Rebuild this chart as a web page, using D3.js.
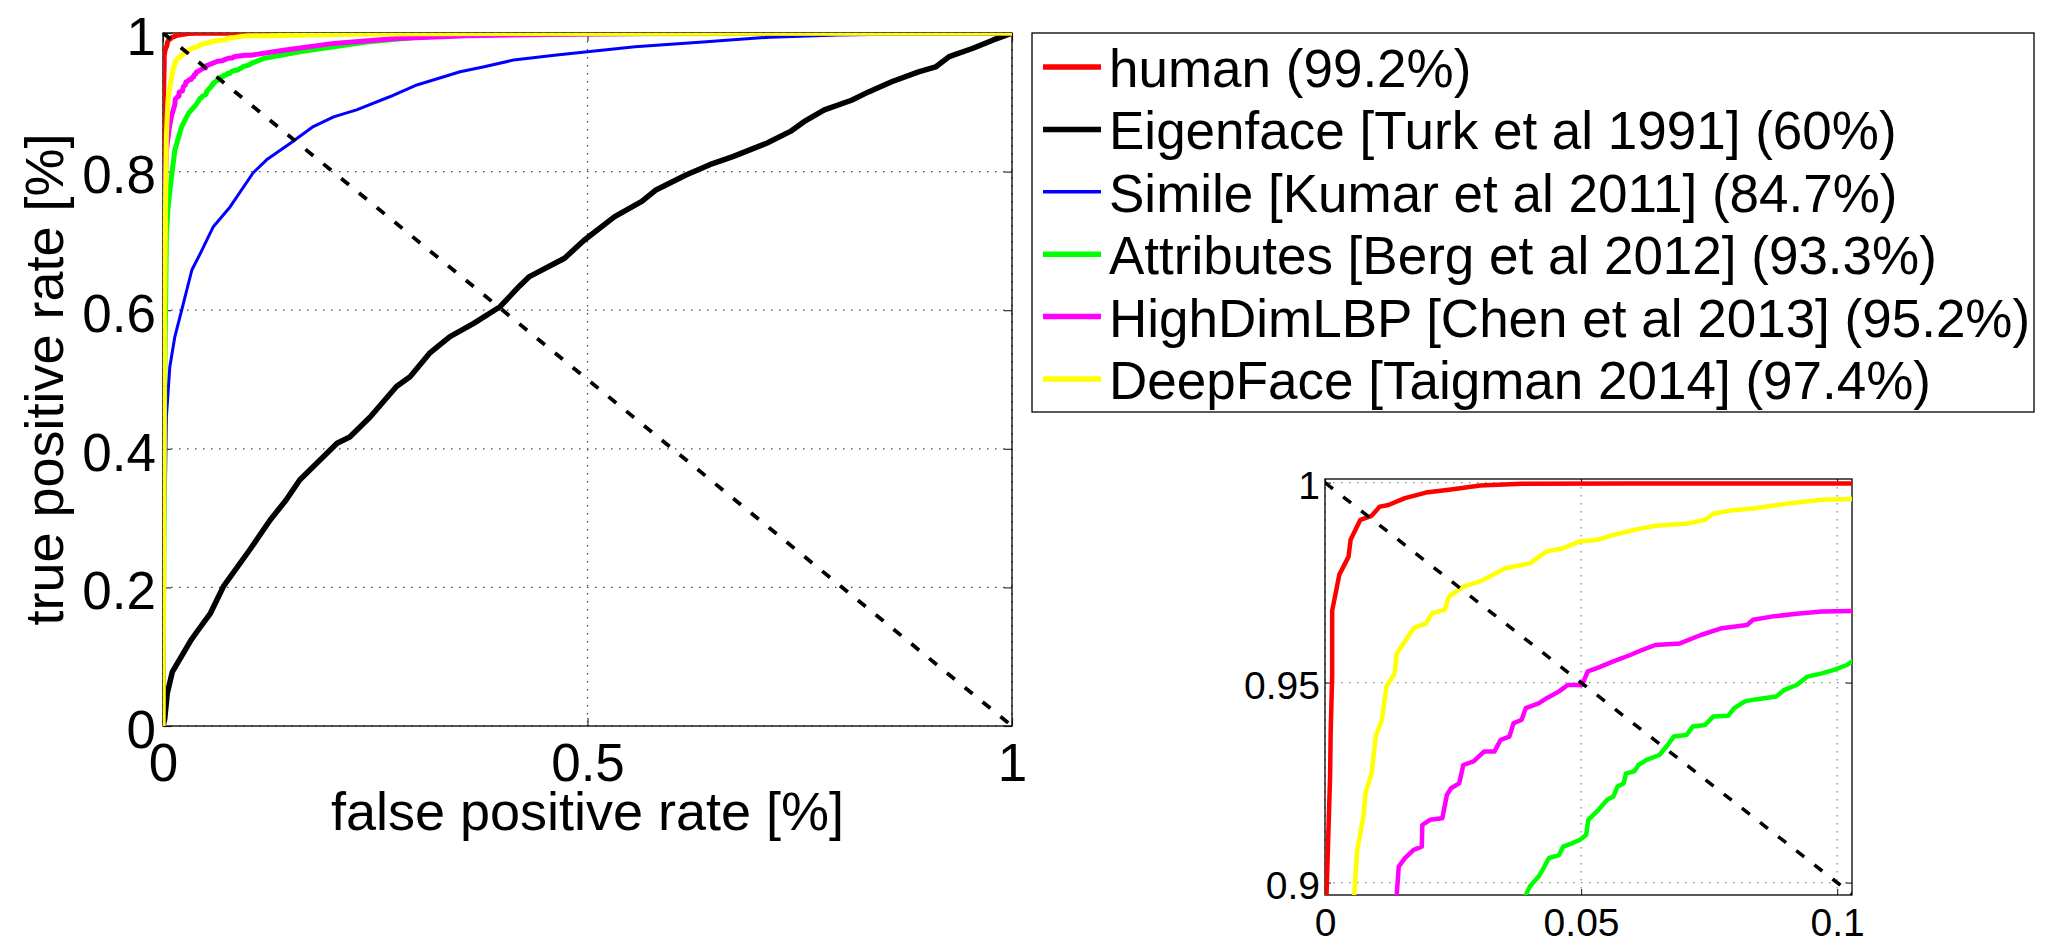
<!DOCTYPE html>
<html>
<head>
<meta charset="utf-8">
<script src="https://cdnjs.cloudflare.com/ajax/libs/d3/7.8.5/d3.min.js"></script>
<style>
  html, body { margin: 0; padding: 0; background: #fff; }
  svg { display: block; font-family: 'Liberation Sans', Arial, Helvetica, sans-serif; }
</style>
</head>
<body>
<div id="chart"></div>
<script>
// ROC curves, as [false positive rate, true positive rate]
const human = [[0, 0], [0.0002, 0.85], [0.0003, 0.897], [0.0010, 0.927], [0.0011, 0.937], [0.0014, 0.952], [0.0014, 0.968],
  [0.0028, 0.977], [0.0046, 0.9815], [0.0050, 0.9857], [0.0069, 0.9907], [0.0091, 0.9917], [0.0107, 0.994], [0.0124, 0.9944],
  [0.0156, 0.9961], [0.0197, 0.9975], [0.0246, 0.9983], [0.0303, 0.9993], [0.0384, 0.9997], [0.0588, 0.9998], [0.1035, 0.9998],
  [0.2, 1], [1, 1]];

const eigenface = [[0, 0], [0.002, 0.01], [0.005, 0.047], [0.011, 0.078], [0.033, 0.124], [0.040, 0.136], [0.056, 0.163],
  [0.071, 0.201], [0.102, 0.254], [0.126, 0.297], [0.145, 0.326], [0.161, 0.355], [0.205, 0.408], [0.220, 0.417], [0.244, 0.446],
  [0.275, 0.490], [0.291, 0.504], [0.314, 0.538], [0.338, 0.562], [0.366, 0.581], [0.397, 0.605], [0.420, 0.635], [0.431, 0.648],
  [0.473, 0.675], [0.496, 0.701], [0.532, 0.735], [0.564, 0.757], [0.580, 0.773], [0.616, 0.795], [0.644, 0.810], [0.672, 0.822],
  [0.711, 0.841], [0.739, 0.858], [0.755, 0.872], [0.779, 0.889], [0.811, 0.903], [0.831, 0.915], [0.859, 0.930], [0.890, 0.944],
  [0.910, 0.951], [0.926, 0.966], [0.954, 0.978], [0.978, 0.990], [1, 1]];

const simile = [[0, 0], [0.001, 0.15], [0.002, 0.3], [0.003, 0.355], [0.004, 0.446], [0.008, 0.518], [0.014, 0.562],
  [0.022, 0.600], [0.034, 0.658], [0.044, 0.682], [0.059, 0.720], [0.079, 0.749], [0.106, 0.798], [0.122, 0.817], [0.150, 0.841],
  [0.177, 0.865], [0.201, 0.879], [0.228, 0.889], [0.267, 0.908], [0.299, 0.925], [0.350, 0.944], [0.377, 0.951], [0.413, 0.961],
  [0.461, 0.968], [0.500, 0.973], [0.556, 0.980], [0.636, 0.987], [0.715, 0.994], [0.795, 0.997], [0.835, 0.998], [1, 1]];

const attributes = [[0, 0], [0.002, 0.5], [0.003, 0.6], [0.004, 0.711], [0.006, 0.749], [0.010, 0.793], [0.014, 0.831],
  [0.022, 0.865], [0.030, 0.884], [0.0392, 0.8969], [0.040, 0.899], [0.0417, 0.9015], [0.0425, 0.9032], [0.0437, 0.9061],
  [0.0457, 0.9069], [0.0465, 0.909], [0.0482, 0.9098], [0.0498, 0.9107], [0.051, 0.9119], [0.0514, 0.9157], [0.0534, 0.9182],
  [0.0551, 0.9207], [0.0563, 0.9215], [0.0571, 0.924], [0.0583, 0.9248], [0.0588, 0.9273], [0.0604, 0.9278], [0.0612, 0.9294],
  [0.0628, 0.9307], [0.0653, 0.9319], [0.0669, 0.9344], [0.0681, 0.9365], [0.0706, 0.9369], [0.0718, 0.939], [0.0742, 0.9394],
  [0.0758, 0.9415], [0.0787, 0.9417], [0.0799, 0.9436], [0.082, 0.9453], [0.084, 0.9458], [0.0881, 0.9465], [0.0897, 0.9482],
  [0.0921, 0.9494], [0.0942, 0.9515], [0.097, 0.9523], [0.0994, 0.9532], [0.1019, 0.9544], [0.1035, 0.9558], [0.118, 0.963],
  [0.161, 0.973], [0.201, 0.980], [0.240, 0.987], [0.299, 0.994], [0.358, 0.997], [0.5, 0.999], [1, 1]];

const highDimLBP = [[0, 0], [0.001, 0.5], [0.002, 0.75], [0.004, 0.83], [0.007, 0.86], [0.010, 0.88], [0.014, 0.8969],
  [0.0144, 0.904], [0.0156, 0.9061], [0.0173, 0.9082], [0.0189, 0.909], [0.019, 0.9144], [0.0205, 0.9157], [0.0229, 0.9161],
  [0.0238, 0.9219], [0.0246, 0.9236], [0.0262, 0.9248], [0.027, 0.9294], [0.029, 0.9303], [0.0311, 0.9328], [0.0331, 0.9328],
  [0.0343, 0.9357], [0.036, 0.9365], [0.0368, 0.9398], [0.0384, 0.9407], [0.0392, 0.9436], [0.0417, 0.9448], [0.0433, 0.9461],
  [0.0457, 0.9478], [0.0474, 0.9494], [0.0502, 0.9494], [0.0513, 0.9528], [0.0531, 0.9536], [0.0563, 0.9553], [0.0596, 0.9569],
  [0.062, 0.9582], [0.0645, 0.9594], [0.0693, 0.9598], [0.0734, 0.9619], [0.0775, 0.9636], [0.0824, 0.9644], [0.0836, 0.9657],
  [0.0872, 0.9665], [0.0921, 0.9672], [0.097, 0.9678], [0.1035, 0.9679], [0.142, 0.975], [0.201, 0.985], [0.275, 0.992],
  [0.358, 0.996], [0.45, 0.998], [0.6, 0.9995], [1, 1]];

const deepFace = [[0, 0], [0.001, 0.3], [0.002, 0.6], [0.003, 0.75], [0.004, 0.85], [0.005, 0.88], [0.0057, 0.8969],
  [0.0063, 0.9082], [0.0075, 0.9165], [0.0079, 0.9223], [0.0091, 0.9273], [0.0099, 0.9365], [0.0111, 0.9407], [0.012, 0.949],
  [0.0136, 0.9523], [0.014, 0.9573], [0.0156, 0.9603], [0.0173, 0.9636], [0.0197, 0.9648], [0.0209, 0.9673], [0.0234, 0.9682],
  [0.0242, 0.9715], [0.027, 0.974], [0.0303, 0.9753], [0.0327, 0.9769], [0.0352, 0.9786], [0.04, 0.9798], [0.0433, 0.9828],
  [0.0465, 0.9836], [0.0498, 0.9853], [0.0531, 0.9857], [0.0563, 0.9869], [0.0608, 0.9883], [0.0645, 0.9892], [0.071, 0.9898],
  [0.0742, 0.9907], [0.0758, 0.9922], [0.0791, 0.993], [0.084, 0.9936], [0.0905, 0.9948], [0.097, 0.9957], [0.1035, 0.9959],
  [0.122, 0.996], [0.201, 0.998], [0.3, 0.999], [1, 1]];

const chanceLine = [[0, 1], [1, 0]];

const seriesNames = ['human (99.2%)', 'Eigenface [Turk et al 1991] (60%)', 'Simile [Kumar et al 2011] (84.7%)',
  'Attributes [Berg et al 2012] (93.3%)', 'HighDimLBP [Chen et al 2013] (95.2%)', 'DeepFace [Taigman 2014] (97.4%)'];
const seriesData = [human, eigenface, simile, attributes, highDimLBP, deepFace];
const seriesColors = ['#ff0000', '#000000', '#0000ff', '#00ff00', '#ff00ff', '#ffff00'];
const seriesWidths = [5, 5.5, 3, 5, 5, 5];

const mainTicksX = [0, 0.5, 1];
const mainTicksY = [0, 0.2, 0.4, 0.6, 0.8, 1];
const insetTicksX = [0, 0.05, 0.1];
const insetTicksY = [0.9, 0.95, 1];

const svg = d3.select('#chart').append('svg')
  .attr('width', 2045)
  .attr('height', 944);

function drawPanel(p) {
  let x = d3.scaleLinear().domain(p.xDomain).range([0, p.width]);
  let y = d3.scaleLinear().domain(p.yDomain).range([p.height, 0]);
  let fmt = d3.format('~g');

  let g = svg.append('g')
    .attr('class', 'panel ' + p.id)
    .attr('transform', 'translate(' + [p.left, p.top] + ')');

  g.append('clipPath')
    .attr('id', p.id + '-clip')
    .append('rect')
    .attr('width', p.width)
    .attr('height', p.height);

  g.append('rect')
    .attr('width', p.width)
    .attr('height', p.height)
    .style('fill', '#fff');

  // dotted grid
  let grid = g.append('g').attr('class', 'grid');
  grid.selectAll('line.gx')
    .data(p.ticksX)
    .enter().append('line')
    .attr('class', 'gx')
    .attr('x1', d => x(d)).attr('x2', d => x(d))
    .attr('y1', 0).attr('y2', p.height);
  grid.selectAll('line.gy')
    .data(p.ticksY)
    .enter().append('line')
    .attr('class', 'gy')
    .attr('x1', 0).attr('x2', p.width)
    .attr('y1', d => y(d)).attr('y2', d => y(d));
  grid.selectAll('line')
    .style('stroke', p.gridColor)
    .style('stroke-width', 1.2)
    .style('stroke-dasharray', '1.5,6.5');

  // axes, ticks pointing inwards like matlab
  let axes = [
    {axis: d3.axisBottom(x).tickValues(p.ticksX).tickFormat(fmt).tickPadding(p.padX), at: [0, p.height]},
    {axis: d3.axisTop(x).tickValues(p.ticksX).tickFormat(''), at: [0, 0]},
    {axis: d3.axisLeft(y).tickValues(p.ticksY).tickFormat(fmt).tickPadding(p.padY), at: [0, 0]},
    {axis: d3.axisRight(y).tickValues(p.ticksY).tickFormat(''), at: [p.width, 0]}
  ];
  axes.forEach(a => {
    let ag = g.append('g')
      .attr('class', 'axis')
      .attr('transform', 'translate(' + a.at + ')')
      .call(a.axis.tickSizeInner(-p.tick).tickSizeOuter(0));
    ag.select('.domain').remove();
    ag.selectAll('line').style('stroke', '#333').style('stroke-width', 1.2);
    ag.selectAll('text')
      .attr('font-family', null)
      .style('font-size', p.fontSize + 'px')
      .style('fill', '#000');
  });
  g.selectAll('.axis').filter((d, i) => i === 2).selectAll('text').attr('dy', '0.4em');

  g.append('rect')
    .attr('width', p.width)
    .attr('height', p.height)
    .style('fill', 'none')
    .style('stroke', '#000')
    .style('stroke-width', 1.3);

  let line = d3.line().x(d => x(d[0])).y(d => y(d[1]));
  let curves = g.append('g').attr('clip-path', 'url(#' + p.id + '-clip)');

  curves.selectAll('path.roc')
    .data(seriesData)
    .enter().append('path')
    .attr('class', 'roc')
    .attr('d', line)
    .style('fill', 'none')
    .style('stroke', (d, i) => seriesColors[i])
    .style('stroke-width', (d, i) => p.lineScale * seriesWidths[i])
    .style('stroke-linejoin', 'round')
    .style('stroke-linecap', 'round')
    .style('display', (d, i) => p.skip.indexOf(i) >= 0 ? 'none' : null);

  curves.append('path')
    .datum(chanceLine)
    .attr('d', line)
    .style('fill', 'none')
    .style('stroke', '#000')
    .style('stroke-width', p.dashWidth)
    .style('stroke-dasharray', '10,13');

  return g;
}

let main = drawPanel({
  id: 'main', left: 163, top: 33, width: 849, height: 693,
  xDomain: [0, 1], yDomain: [0, 1],
  ticksX: mainTicksX, ticksY: mainTicksY,
  fontSize: 53, padX: 17, padY: 7, tick: 8,
  gridColor: '#444', lineScale: 1, dashWidth: 3.8, skip: []
});

main.append('text')
  .attr('x', 849 / 2)
  .attr('y', 830 - 33)
  .style('text-anchor', 'middle')
  .style('font-size', '54px')
  .text('false positive rate [%]');

main.append('text')
  .attr('transform', 'translate(' + [63 - 163, 693 / 2] + ') rotate(-90)')
  .style('text-anchor', 'middle')
  .style('font-size', '54px')
  .text('true positive rate [%]');

// zoomed view of the top left corner
drawPanel({
  id: 'inset', left: 1325, top: 479, width: 527, height: 416,
  xDomain: [0, 0.1029], yDomain: [0.8969, 1.0009],
  ticksX: insetTicksX, ticksY: insetTicksY,
  fontSize: 39, padX: 13, padY: 5, tick: 6,
  gridColor: '#8a8a8a', lineScale: 0.9, dashWidth: 3.5, skip: [1, 2]
});

// legend
let legend = svg.append('g')
  .attr('class', 'legend')
  .attr('transform', 'translate(' + [1032, 33] + ')');

legend.append('rect')
  .attr('width', 1002)
  .attr('height', 379)
  .style('fill', '#fff')
  .style('stroke', '#000')
  .style('stroke-width', 1.3);

let item = legend.selectAll('g.item')
  .data(seriesNames)
  .enter().append('g')
  .attr('class', 'item')
  .attr('transform', (d, i) => 'translate(' + [0, 34 + i * 62.4] + ')');

item.append('line')
  .attr('x1', 11).attr('x2', 69)
  .style('stroke', (d, i) => seriesColors[i])
  .style('stroke-width', (d, i) => seriesWidths[i] === 3 ? 3.5 : 5.5);

item.append('text')
  .attr('x', 77)
  .attr('y', 20)
  .style('font-size', '53px')
  .text(d => d);
</script>
</body>
</html>
